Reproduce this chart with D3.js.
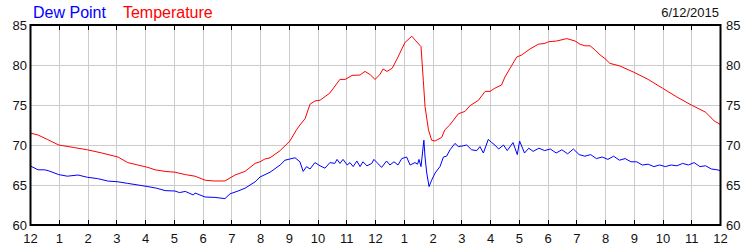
<!DOCTYPE html>
<html>
<head>
<meta charset="utf-8" />
<title>Dew Point / Temperature</title>
<script src="https://d3js.org/d3.v7.min.js"></script>
<style>
  body { margin: 0; background: #fff; }
  svg text { font-family: "Liberation Sans", Arial, sans-serif; }
  .grid line { stroke: #cccccc; stroke-width: 1; shape-rendering: crispEdges; }
  .axis path { display: none; }
  .axis line { stroke: #000; shape-rendering: crispEdges; }
  .axis text { font-size: 13px; fill: #111; }
</style>
</head>
<body>
<div id="chart"></div>
<script>
// hour of day (0 = midnight) and reading
var tempHours = [0, 0.28, 0.6, 1.0, 1.5, 2.0, 2.5, 3.06, 3.4, 3.75, 4.1, 4.35, 4.7, 5.04, 5.4, 5.74, 6.09, 6.4, 6.78,
  7.13, 7.48, 7.83, 8.0, 8.17, 8.35, 8.7, 9.04, 9.28, 9.39, 9.57, 9.74, 9.91, 10.09, 10.43, 10.78, 10.96, 11.06, 11.2,
  11.48, 11.65, 11.83, 12.0, 12.17, 12.28, 12.42, 12.6, 12.8, 13.04, 13.28, 13.4, 13.6, 13.68, 13.74, 13.86, 13.97,
  14.09, 14.32, 14.43, 14.6, 14.9, 15.13, 15.3, 15.6, 15.83, 16.0, 16.17, 16.4, 16.52, 16.7, 16.93, 17.1, 17.39, 17.68,
  17.91, 18.03, 18.32, 18.67, 18.96, 19.13, 19.3, 19.48, 19.65, 19.83, 20.0, 20.17, 20.5, 21.0, 21.5, 22.0, 22.5,
  23.0, 23.5, 23.8, 24.0];
var tempVals = [71.5, 71.25, 70.7, 70.0, 69.7, 69.4, 69.0, 68.5, 67.8, 67.5, 67.2, 66.9, 66.7, 66.6, 66.3, 66.1, 65.6, 65.5, 65.5,
  66.25, 66.7, 67.7, 67.9, 68.25, 68.4, 69.3, 70.5, 71.96, 72.5, 73.3, 75.1, 75.5, 75.6, 76.5, 78.2, 78.2, 78.4, 78.7,
  78.75, 79.2, 78.8, 78.2, 78.8, 79.5, 79.2, 79.6, 81.0, 82.8, 83.6, 83.1, 82.3, 78.1, 74.8, 71.9, 70.6,
  70.5, 70.95, 71.9, 72.5, 73.9, 74.2, 74.9, 75.6, 76.7, 76.7, 77.1, 77.5, 78.5, 79.6, 81.0, 81.25, 82.0, 82.6,
  82.7, 82.9, 83.0, 83.3, 83.0, 82.6, 82.4, 82.4, 81.9, 81.25, 80.8, 80.2, 79.9, 79.1, 78.2, 77.1, 76.0,
  75.0, 74.1, 73.0, 72.6];

var dewHours = [0, 0.28, 0.5, 0.63, 1.0, 1.3, 1.67, 2.0, 2.35, 2.7, 3.06, 3.4, 3.76, 4.1, 4.4, 4.7, 5.04, 5.2, 5.4, 5.68,
  5.74, 6.09, 6.43, 6.78, 6.96, 7.2, 7.48, 7.83, 8.0, 8.35, 8.7, 8.87, 9.04, 9.22, 9.39, 9.5, 9.62, 9.74, 9.91, 10.09,
  10.26, 10.43, 10.6, 10.68, 10.78, 10.89, 11.03, 11.13, 11.24, 11.37, 11.48, 11.58, 11.72, 11.89, 11.96, 12.07, 12.23,
  12.4, 12.52, 12.66, 12.8, 12.93, 13.1, 13.22, 13.39, 13.48, 13.53, 13.6, 13.7, 13.74, 13.8, 13.88, 13.97, 14.09,
  14.26, 14.38, 14.49, 14.61, 14.78, 14.9, 15.07, 15.19, 15.36, 15.54, 15.65, 15.77, 15.94, 16.06, 16.17, 16.3, 16.47,
  16.6, 16.8, 16.95, 17.03, 17.2, 17.35, 17.5, 17.7, 17.9, 18.1, 18.3, 18.5, 18.7, 18.9, 19.1, 19.3, 19.5, 19.7, 19.9,
  20.1, 20.3, 20.5, 20.7, 20.9, 21.1, 21.3, 21.5, 21.7, 21.9, 22.1, 22.3, 22.5, 22.7, 22.9, 23.1, 23.3, 23.5, 23.7,
  23.9, 24.0];
var dewVals = [67.4, 66.9, 66.9, 66.8, 66.3, 66.1, 66.25, 65.96, 65.8, 65.5, 65.4, 65.2, 65.0, 64.8, 64.6, 64.3, 64.25, 64.05, 64.2, 63.75,
  64.0, 63.5, 63.45, 63.3, 63.9, 64.2, 64.6, 65.4, 66.0, 66.6, 67.5, 68.1, 68.25, 68.4, 67.9, 66.7, 67.3, 67.0, 67.8, 67.4,
  67.1, 67.8, 67.7, 68.2, 67.7, 68.2, 67.5, 67.8, 67.3, 68.0, 67.3, 67.9, 67.4, 67.7, 68.2, 67.8, 67.2,
  68.0, 67.5, 67.9, 67.5, 68.3, 68.5, 67.5, 67.8, 67.6, 68.2, 67.3, 70.6, 68.5, 66.5, 64.8, 65.6, 66.5,
  67.3, 68.5, 68.6, 69.4, 70.2, 69.8, 69.9, 70.0, 69.4, 69.3, 69.8, 69.0, 70.7, 70.3, 70.0, 69.5, 70.0,
  69.3, 70.3, 68.8, 70.5, 69.0, 69.6, 69.2, 69.6, 69.3, 69.5, 69.0, 69.4, 68.9, 69.5, 68.8, 68.6, 68.8, 68.3, 68.5,
  68.2, 68.6, 68.1, 68.3, 67.9, 67.9, 67.5, 67.6, 67.3, 67.5, 67.3, 67.5, 67.4, 67.7, 67.5, 67.8, 67.3, 67.4, 67.0,
  66.9, 66.8];

var hourTicks = d3.range(0, 25);
var hourLabels = ["12", "1", "2", "3", "4", "5", "6", "7", "8", "9", "10", "11",
                  "12", "1", "2", "3", "4", "5", "6", "7", "8", "9", "10", "11", "12"];
var valueTicks = [60, 65, 70, 75, 80, 85];

var seriesNames = ["Dew Point", "Temperature"];
var seriesColors = ["#0000ff", "#ff0000"];
var dateLabel = "6/12/2015";

var W = 750, H = 250;
var margin = {top: 25, right: 30, bottom: 25, left: 30},
    width = W - margin.left - margin.right,
    height = H - margin.top - margin.bottom;

var x = d3.scaleLinear().domain([0, 24]).range([0, width]);
var y = d3.scaleLinear().domain([60, 85]).range([height, 0]);

var svg = d3.select("#chart").append("svg")
    .attr("width", W)
    .attr("height", H);

var g = svg.append("g")
    .attr("transform", "translate(" + margin.left + "," + margin.top + ")");

// grid
var grid = g.append("g").attr("class", "grid");
grid.selectAll(".vg")
    .data(hourTicks.slice(1, -1))
    .enter().append("line")
    .attr("x1", function(d) { return Math.round(x(d)) + 0.5; })
    .attr("x2", function(d) { return Math.round(x(d)) + 0.5; })
    .attr("y1", 0)
    .attr("y2", height);
grid.selectAll(".hg")
    .data(valueTicks.slice(1, -1))
    .enter().append("line")
    .attr("x1", 0)
    .attr("x2", width)
    .attr("y1", function(d) { return y(d) + 0.5; })
    .attr("y2", function(d) { return y(d) + 0.5; });

// ticks on top and bottom, pointing inward
g.append("g")
    .attr("class", "axis")
    .attr("transform", "translate(0," + height + ")")
    .call(d3.axisBottom(x).tickValues(hourTicks).tickSizeInner(-5).tickSizeOuter(0).tickPadding(9)
        .tickFormat(function(d, i) { return hourLabels[i]; }));

g.append("g")
    .attr("class", "axis")
    .call(d3.axisTop(x).tickValues(hourTicks).tickSizeInner(-5).tickSizeOuter(0).tickFormat(""));

g.append("g")
    .attr("class", "axis")
    .call(d3.axisLeft(y).tickValues(valueTicks).tickSize(0).tickPadding(3));

g.append("g")
    .attr("class", "axis")
    .attr("transform", "translate(" + width + ",0)")
    .call(d3.axisRight(y).tickValues(valueTicks).tickSize(0).tickPadding(6));

// lines
var line = d3.line()
    .x(function(d) { return x(d[0]); })
    .y(function(d) { return y(d[1]); });

var dew = d3.zip(dewHours, dewVals);
var temp = d3.zip(tempHours, tempVals);

g.append("path")
    .datum(dew)
    .attr("fill", "none")
    .attr("stroke", seriesColors[0])
    .attr("stroke-width", 1)
    .attr("d", line);

g.append("path")
    .datum(temp)
    .attr("fill", "none")
    .attr("stroke", seriesColors[1])
    .attr("stroke-width", 1)
    .attr("d", line);

// frame
g.append("rect")
    .attr("x", 0.5)
    .attr("y", 0)
    .attr("width", width)
    .attr("height", height)
    .attr("fill", "none")
    .attr("stroke", "#000")
    .attr("stroke-width", 2);

// legend-style title
var title = svg.append("text")
    .attr("x", 33)
    .attr("y", 18)
    .style("font-size", "16px");
title.append("tspan").attr("fill", seriesColors[0]).text(seriesNames[0]);
title.append("tspan").attr("fill", seriesColors[1]).attr("dx", 17).text(seriesNames[1]);

svg.append("text")
    .attr("x", 719)
    .attr("y", 17)
    .attr("text-anchor", "end")
    .style("font-size", "13px")
    .attr("fill", "#111")
    .text(dateLabel);
</script>
</body>
</html>
